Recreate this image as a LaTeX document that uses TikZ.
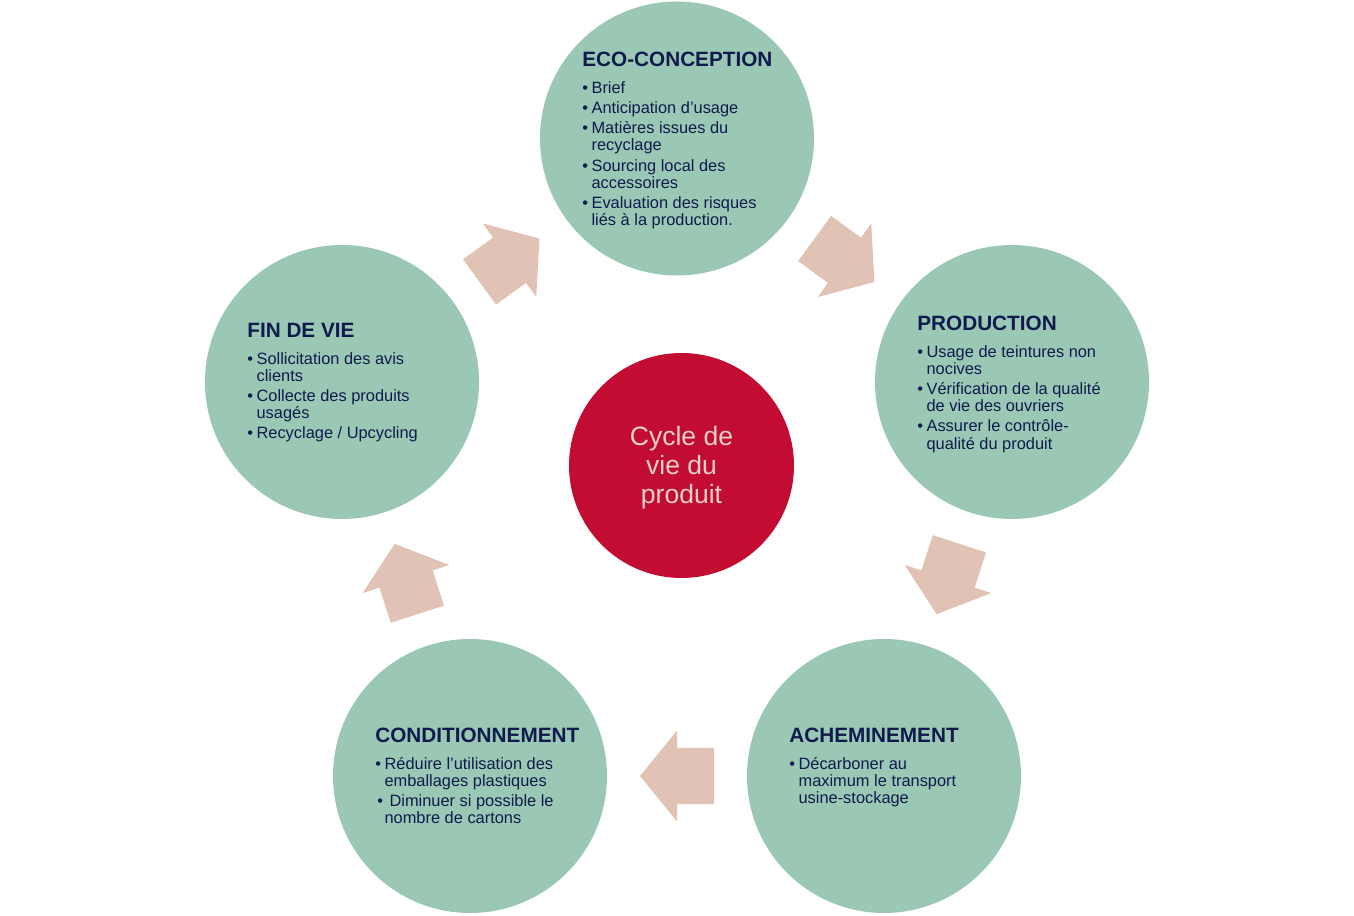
\documentclass[tikz,border=0pt]{standalone}
\usepackage{fontspec}
\setmainfont{Liberation Sans}
\usepackage{tikz}
\usetikzlibrary{calc}
\definecolor{sage}{HTML}{9AC8B5}
\definecolor{crimson}{HTML}{C30C31}
\definecolor{blush}{HTML}{E0C3B4}
\definecolor{navy}{HTML}{101A4C}
\definecolor{rose}{HTML}{ECCFC6}
\newcommand{\ttl}[1]{\multicolumn{2}{@{}l@{}}{\fontsize{11.8}{12}\selectfont\bfseries #1}\\[5.2pt]}
\newcommand{\bodyfont}{\fontsize{9.33}{9.65}\selectfont}

\begin{document}
\begin{tikzpicture}[
  stage/.style={circle, fill=sage, minimum size=5.48cm, inner sep=0pt},
  stagetext/.style={anchor=base west, inner sep=0pt, text=navy, font=\bodyfont},
  flow/.pic={\fill[blush] (-0.74,-0.56) -- (0,-0.56) -- (0,-0.91) -- (0.74,0) -- (0,0.91) -- (0,0.56) -- (-0.74,0.56) -- cycle;}]
\useasboundingbox (0,0) rectangle (27.08,18.30);

\node[stage] (eco) at (13.54,15.53) {};
\node[stage] (prod) at (20.24,10.66) {};
\node[stage] (ache) at (17.68,2.78) {};
\node[stage] (cond) at (9.40,2.78) {};
\node[stage] (fin) at (6.84,10.66) {};
\node[circle, fill=crimson, minimum size=4.5cm, inner sep=0pt] (cycle) at (13.63,8.99) {};
\node[text=rose, align=center, font=\fontsize{15.1}{16.5}\selectfont, yshift=-0.04cm] (cycletxt) at (cycle) {Cycle de\\vie du\\produit};

% arrows between the stages
\path ($(fin)!0.5!(eco)$) pic[rotate=36] {flow};
\path ($(eco)!0.5!(prod)$) pic[rotate=-36] {flow};
\path ($(prod)!0.5!(ache)$) pic[rotate=-108] {flow};
\path ($(ache)!0.5!(cond)$) pic[rotate=180] {flow};
\path ($(cond)!0.5!(fin)$) pic[rotate=108] {flow};

% texts of the stages
\node[stagetext] (ecotxt) at (11.64,16.96) {\begin{tabular}[t]{@{}l@{\hspace{0.07cm}}l@{}}
\ttl{ECO-CONCEPTION}
• & Brief\\[1.9pt]
• & Anticipation d’usage\\[1.9pt]
• & Matières issues du\\
  & recyclage\\[1.9pt]
• & Sourcing local des\\
  & accessoires\\[1.9pt]
• & Evaluation des risques\\
  & liés à la production.
\end{tabular}};
\node[stagetext] (prodtxt) at (18.34,11.68) {\begin{tabular}[t]{@{}l@{\hspace{0.07cm}}l@{}}
\ttl{PRODUCTION}
• & Usage de teintures non\\
  & nocives\\[1.9pt]
• & Vérification de la qualité\\
  & de vie des ouvriers\\[1.9pt]
• & Assurer le contrôle-\\
  & qualité du produit
\end{tabular}};
\node[stagetext] (fintxt) at (4.94,11.54) {\begin{tabular}[t]{@{}l@{\hspace{0.07cm}}l@{}}
\ttl{FIN DE VIE}
• & Sollicitation des avis\\
  & clients\\[1.9pt]
• & Collecte des produits\\
  & usagés\\[1.9pt]
• & Recyclage / Upcycling
\end{tabular}};
\node[stagetext] (condtxt) at (7.50,3.44) {\begin{tabular}[t]{@{}l@{\hspace{0.07cm}}l@{}}
\ttl{CONDITIONNEMENT}
• & Réduire l’utilisation des\\
  & emballages plastiques\\[1.9pt]
\rlap{\hspace{0.04cm}•} & \hspace{0.1cm}Diminuer si possible le\\
  & nombre de cartons
\end{tabular}};
\node[stagetext] (achetxt) at (15.78,3.44) {\begin{tabular}[t]{@{}l@{\hspace{0.07cm}}l@{}}
\ttl{ACHEMINEMENT}
• & Décarboner au\\
  & maximum le transport\\
  & usine-stockage
\end{tabular}};
\end{tikzpicture}
\end{document}
